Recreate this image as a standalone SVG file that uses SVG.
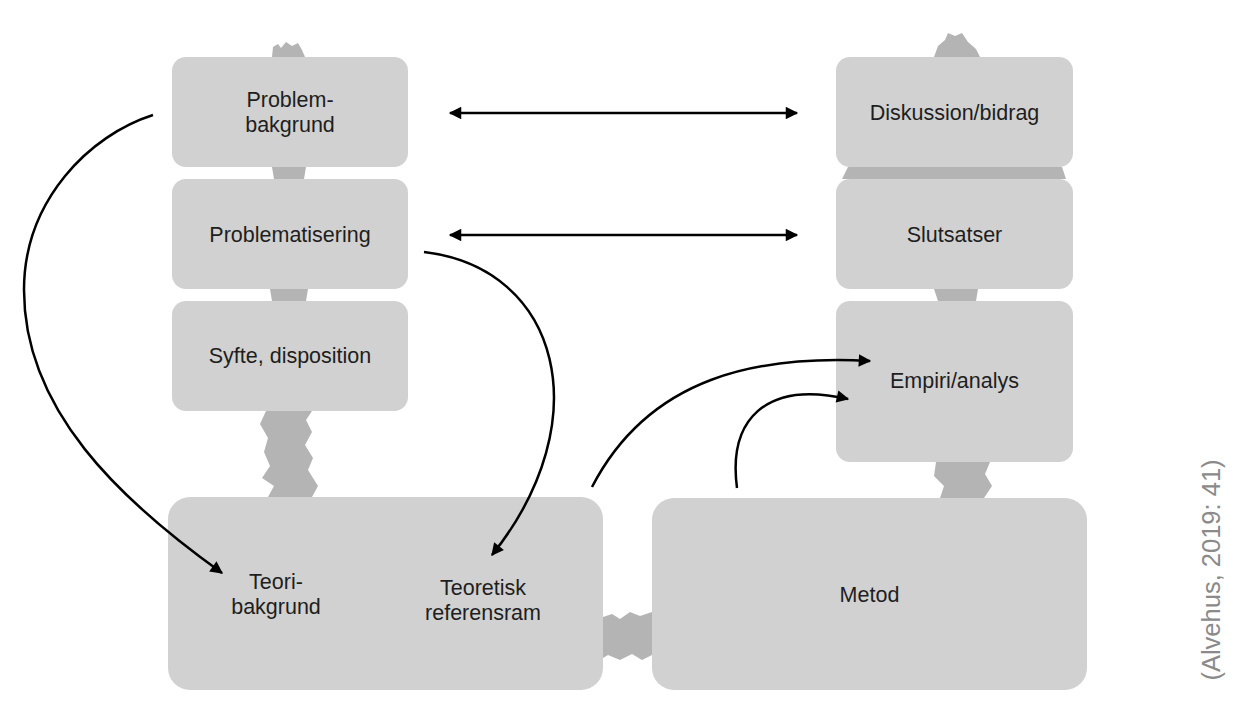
<svg xmlns="http://www.w3.org/2000/svg" width="1254" height="704" viewBox="0 0 1254 704">
<defs>
<style>
.box{fill:#d1d1d1}
.blob{fill:#b4b4b4}
.lbl{font-family:"Liberation Sans",Arial,sans-serif;font-size:21.5px;fill:#1e1e1e;text-anchor:middle}
.cn{fill:none;stroke:#000;stroke-width:2.5}
</style>
<marker id="ah" viewBox="0 0 10 10" refX="9" refY="5" markerWidth="6.4" markerHeight="5" markerUnits="strokeWidth" orient="auto-start-reverse">
<path d="M0,0 L10,5 L0,10 z" fill="#000"/>
</marker>
</defs>
<rect width="1254" height="704" fill="#fff"/>
<g id="blobs">
<path class="blob" d="M272,57 L273,47 L278,44 L281,48 L286,42 L292,46 L298,43 L302,50 L305,57 Z"/>
<path class="blob" d="M272,167 L306,167 L304,179 L274,179 Z"/>
<path class="blob" d="M270,289 L308,289 L306,301 L272,301 Z"/>
<path class="blob" d="M266,411 L312,411 L306,420 L312,432 L305,445 L313,458 L308,470 L318,486 L312,497 L268,497 L274,486 L262,478 L270,466 L264,452 L268,438 L260,424 Z"/>
<path class="blob" d="M934,57 L938,46 L945,40 L948,33 L955,36 L962,33 L968,42 L976,49 L980,57 Z"/>
<path class="blob" d="M848,167 L1062,167 L1066,179 L842,179 Z"/>
<path class="blob" d="M934,289 L978,289 L976,301 L938,301 Z"/>
<path class="blob" d="M936,462 L990,462 L985,474 L992,486 L984,498 L940,498 L944,486 L934,476 Z"/>
<path class="blob" d="M603,617 L612,614 L620,619 L630,612 L640,616 L652,612 L652,655 L642,660 L632,654 L620,660 L608,655 L603,658 Z"/>
</g>
<g id="n-problembakgrund">
<rect class="box" x="172" y="57" width="236" height="110" rx="14"/>
<text class="lbl" x="290" y="107">Problem-</text>
<text class="lbl" x="290" y="132">bakgrund</text>
</g>
<g id="n-problematisering">
<rect class="box" x="172" y="179" width="236" height="110" rx="14"/>
<text class="lbl" x="290" y="242">Problematisering</text>
</g>
<g id="n-syfte">
<rect class="box" x="172" y="301" width="236" height="110" rx="14"/>
<text class="lbl" x="290" y="363">Syfte, disposition</text>
</g>
<g id="n-diskussion">
<rect class="box" x="836" y="57" width="237" height="110" rx="14"/>
<text class="lbl" x="954.5" y="120">Diskussion/bidrag</text>
</g>
<g id="n-slutsatser">
<rect class="box" x="836" y="179" width="237" height="110" rx="14"/>
<text class="lbl" x="954.5" y="242">Slutsatser</text>
</g>
<g id="n-empiri">
<rect class="box" x="836" y="301" width="237" height="161" rx="14"/>
<text class="lbl" x="954.5" y="388">Empiri/analys</text>
</g>
<g id="n-teori">
<rect class="box" x="168" y="497" width="435" height="193" rx="22"/>
<text class="lbl" x="276" y="589">Teori-</text>
<text class="lbl" x="276" y="614">bakgrund</text>
<text class="lbl" x="483" y="595">Teoretisk</text>
<text class="lbl" x="483" y="620">referensram</text>
</g>
<g id="n-metod">
<rect class="box" x="652" y="498" width="435" height="192" rx="22"/>
<text class="lbl" x="869.5" y="602">Metod</text>
</g>
<g id="connectors">
<path class="cn" d="M450,113 L797,113" marker-start="url(#ah)" marker-end="url(#ah)"/>
<path class="cn" d="M450,235 L797,235" marker-start="url(#ah)" marker-end="url(#ah)"/>
<path class="cn" d="M153,115 C90,135 24,200 24,290 C24,410 120,500 222,573" marker-end="url(#ah)"/>
<path class="cn" d="M424,252 C560,268 600,420 492,555" marker-end="url(#ah)"/>
<path class="cn" d="M592,487 C650,375 760,355 870,361" marker-end="url(#ah)"/>
<path class="cn" d="M737,488 C728,420 765,380 848,399" marker-end="url(#ah)"/>
</g>
<text x="1220" y="570" transform="rotate(-90 1220 570)" font-family="'Liberation Sans',Arial,sans-serif" font-size="25.5" fill="#8a8a8a" text-anchor="middle">(Alvehus, 2019: 41)</text>
</svg>
